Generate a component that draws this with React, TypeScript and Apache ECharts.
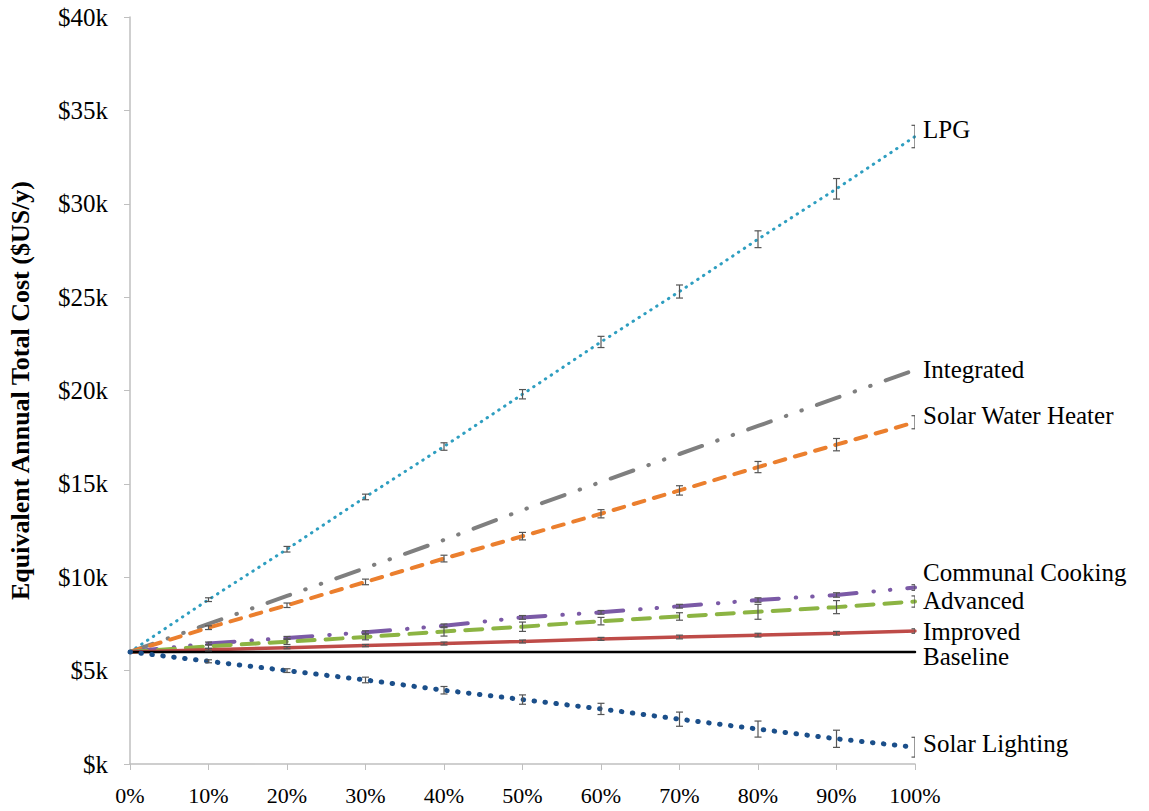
import React, { useEffect, useRef } from "react";
import * as echarts from "echarts";

const shares = [0, 10, 20, 30, 40, 50, 60, 70, 80, 90, 100];

const lpg = [6.0, 8.8, 11.5, 14.3, 17.0, 19.8, 22.6, 25.3, 28.1, 30.8, 33.6];
const lpgErr = [0, 0.1, 0.15, 0.15, 0.2, 0.25, 0.3, 0.35, 0.45, 0.55, 0.6];
const integrated = [6.0, 7.5, 9.0, 10.5, 12.0, 13.6, 15.1, 16.6, 18.1, 19.6, 21.1];
const solarWater = [6.0, 7.3, 8.5, 9.75, 11.0, 12.2, 13.4, 14.65, 15.9, 17.1, 18.3];
const solarWaterErr = [0, 0.1, 0.12, 0.15, 0.18, 0.2, 0.22, 0.25, 0.3, 0.33, 0.35];
const communal = [6.0, 6.45, 6.75, 7.05, 7.4, 7.85, 8.12, 8.45, 8.78, 9.05, 9.45];
const communalErr = [0, 0.08, 0.08, 0.08, 0.1, 0.1, 0.1, 0.1, 0.12, 0.12, 0.15];
const advanced = [6.0, 6.3, 6.55, 6.8, 7.1, 7.35, 7.65, 7.9, 8.15, 8.4, 8.7];
const advancedErr = [0, 0.1, 0.15, 0.15, 0.25, 0.25, 0.2, 0.2, 0.4, 0.35, 0.3];
const improved = [6.0, 6.12, 6.23, 6.34, 6.45, 6.56, 6.7, 6.8, 6.9, 7.0, 7.12];
const improvedErr = [0, 0.06, 0.06, 0.06, 0.08, 0.08, 0.08, 0.1, 0.1, 0.1, 0.12];
const baseline = [6, 6, 6, 6, 6, 6, 6, 6, 6, 6, 6];
const solarLighting = [6.0, 5.5, 5.0, 4.5, 3.95, 3.45, 2.95, 2.4, 1.87, 1.35, 0.9];
const solarLightingErr = [0, 0.08, 0.1, 0.15, 0.2, 0.25, 0.3, 0.38, 0.43, 0.46, 0.53];

const yTicks = [0, 5, 10, 15, 20, 25, 30, 35, 40];

const FONT = '"Liberation Serif", "Times New Roman", serif';

type Spec = {
  name: string;
  values: number[];
  err?: number[];
  color: string;
  width: number;
  dash: any;
  labelDy: number;
};

const specs: Spec[] = [
  { name: "LPG", values: lpg, err: lpgErr, color: "#2E9EC0", width: 3, dash: [0.5, 6.5], labelDy: -7 },
  { name: "Integrated", values: integrated, color: "#7F7F7F", width: 4, dash: [24, 16, 0.5, 16, 0.5, 16], labelDy: 0 },
  { name: "Solar Water Heater", values: solarWater, err: solarWaterErr, color: "#EB7F2E", width: 4, dash: [11, 10], labelDy: -7 },
  { name: "Communal Cooking", values: communal, err: communalErr, color: "#7B5AA6", width: 4, dash: [27, 17, 0.5, 16, 0.5, 17], labelDy: -15 },
  { name: "Advanced", values: advanced, err: advancedErr, color: "#8CB443", width: 4, dash: [17, 11], labelDy: -1 },
  { name: "Improved", values: improved, err: improvedErr, color: "#BE4B48", width: 3.5, dash: "solid", labelDy: 0 },
  { name: "Baseline", values: baseline, color: "#000000", width: 2.5, dash: "solid", labelDy: 5 },
  { name: "Solar Lighting", values: solarLighting, err: solarLightingErr, color: "#1B4F8A", width: 5, dash: [0.5, 10.5], labelDy: -4 },
];

export default function App() {
  const ref = useRef<HTMLDivElement>(null);
  useEffect(() => {
    if (!ref.current) return;
    const chart = echarts.init(ref.current, null, { renderer: "svg" });

    const lineSeries = specs.map((s) => ({
      type: "line",
      name: s.name,
      data: shares.map((x, i) => [x, s.values[i]]),
      showSymbol: false,
      symbol: "none",
      z: 2,
      lineStyle: { color: s.color, width: s.width, type: s.dash, cap: "round" },
      endLabel: {
        show: true,
        formatter: s.name,
        color: "#000",
        fontFamily: FONT,
        fontSize: 25,
        distance: 8,
        offset: [0, s.labelDy],
      },
    }));

    const errData: number[][] = [];
    specs.forEach((s) => {
      if (!s.err) return;
      shares.forEach((x, i) => {
        if (s.err![i] > 0) errData.push([x, s.values[i] - s.err![i], s.values[i] + s.err![i]]);
      });
    });

    const errSeries = {
      type: "custom",
      name: "errors",
      clip: true,
      z: 5,
      data: errData,
      renderItem: (params: any, api: any) => {
        const x = api.value(0);
        const lo = api.coord([x, api.value(1)]);
        const hi = api.coord([x, api.value(2)]);
        const w = 3.5;
        const style = { stroke: "#555555", lineWidth: 1.2 };
        return {
          type: "group",
          children: [
            { type: "line", shape: { x1: lo[0], y1: lo[1], x2: hi[0], y2: hi[1] }, style },
            { type: "line", shape: { x1: lo[0] - w, y1: lo[1], x2: lo[0] + w, y2: lo[1] }, style },
            { type: "line", shape: { x1: hi[0] - w, y1: hi[1], x2: hi[0] + w, y2: hi[1] }, style },
          ],
        };
      },
    };

    chart.setOption({
      animation: false,
      backgroundColor: "#ffffff",
      grid: { left: 130, right: 234, top: 17, bottom: 47, containLabel: false, outerBoundsMode: "none" },
      xAxis: {
        type: "value",
        min: 0,
        max: 100,
        interval: 10,
        axisLine: { lineStyle: { color: "#BFBFBF", width: 1.5 } },
        axisTick: { show: true, length: 6, lineStyle: { color: "#BFBFBF" } },
        splitLine: { show: false },
        axisLabel: {
          formatter: "{value}%",
          color: "#000",
          fontFamily: FONT,
          fontSize: 22,
          margin: 20,
        },
      },
      yAxis: {
        type: "value",
        min: yTicks[0],
        max: yTicks[yTicks.length - 1],
        interval: 5,
        name: "Equivalent Annual Total Cost ($US/y)",
        nameLocation: "middle",
        nameGap: 97,
        nameTextStyle: { color: "#000", fontFamily: FONT, fontSize: 26, fontWeight: "bold" },
        axisLine: { show: true, lineStyle: { color: "#BFBFBF", width: 1.5 } },
        axisTick: { show: true, length: 6, lineStyle: { color: "#BFBFBF" } },
        splitLine: { show: false },
        axisLabel: {
          formatter: (v: number) => "$" + (v === 0 ? "" : v) + "k",
          color: "#000",
          fontFamily: FONT,
          fontSize: 25,
          margin: 22,
        },
      },
      series: [...lineSeries, errSeries],
    });
    return () => chart.dispose();
  }, []);
  return (
    <div
      ref={ref}
      style={{ position: "fixed", left: 0, top: 0, width: 1149, height: 811, background: "#fff" }}
    />
  );
}
